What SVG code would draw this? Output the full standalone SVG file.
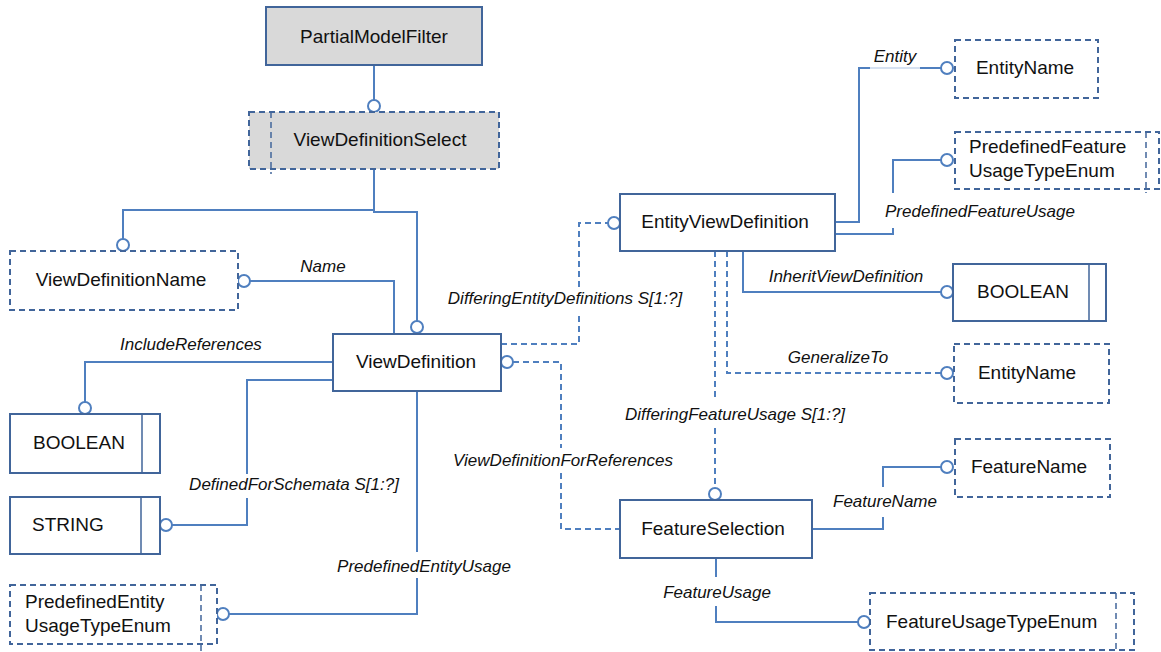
<svg xmlns="http://www.w3.org/2000/svg" width="1161" height="652" viewBox="0 0 1161 652">
<style>
.box{fill:#fff;stroke:#41659a;stroke-width:2}
.gray{fill:#d9d9d9}
.dash{stroke-dasharray:6 4}
.inner{fill:none;stroke:#41659a;stroke-width:1.5}
.t{font-family:"Liberation Sans",Arial,sans-serif;font-size:19px;fill:#111}
.l{font-family:"Liberation Sans",Arial,sans-serif;font-size:17px;font-style:italic;fill:#111}
.m{text-anchor:middle}
.c{fill:none;stroke:#4f7fbf;stroke-width:2}
.cd{stroke-dasharray:6 4}
.faint{fill:none;stroke:#c9d7ec;stroke-width:1.5}
.end{fill:#fff;stroke:#4f7fbf;stroke-width:2}
</style>
<rect width="1161" height="652" fill="#fff"/>

<g id="connectors">
  <path class="c" d="M374 65 V100"/>
  <circle class="end" cx="374" cy="106" r="6"/>
  <path class="c" d="M374 169 V210 H123 V239"/>
  <circle class="end" cx="123" cy="245" r="6"/>
  <path class="c" d="M374 210 V212 H417 V321"/>
  <circle class="end" cx="417" cy="327" r="6"/>
  <path class="c" d="M250 281 H394 V334"/>
  <circle class="end" cx="244" cy="281" r="6"/>
  <path class="c" d="M333 362 H85 V402"/>
  <circle class="end" cx="85" cy="408" r="6"/>
  <path class="c" d="M333 380 H247 V474 M247 498 V525 H172"/>
  <circle class="end" cx="166" cy="525" r="6"/>
  <path class="c" d="M417 391 V552 M417 578 V614 H229"/>
  <circle class="end" cx="223" cy="614" r="6"/>
  <path class="c cd" d="M501 344 H579 V316 M579 287 V223 H608"/>
  <circle class="end" cx="614" cy="223" r="6"/>
  <path class="c cd" d="M513 362 H561 V448 M561 473 V529 H620"/>
  <circle class="end" cx="507" cy="362" r="6"/>
  <path class="c" d="M835 222 H859 V68 H870 M920 68 H941"/>
  <path class="faint" d="M870 68 H920"/>
  <circle class="end" cx="947" cy="68" r="6"/>
  <path class="c" d="M833 234 H893 V228 M893 193 V160 H941"/>
  <circle class="end" cx="947" cy="160" r="6"/>
  <path class="c" d="M743 251 V292 H941"/>
  <circle class="end" cx="947" cy="292" r="6"/>
  <path class="c cd" d="M727 251 V373 H941"/>
  <circle class="end" cx="947" cy="373" r="6"/>
  <path class="c cd" d="M715 251 V400 M715 428 V488"/>
  <circle class="end" cx="715" cy="494" r="6"/>
  <path class="c" d="M812 529 H883 V517 M883 487 V467 H941"/>
  <circle class="end" cx="947" cy="467" r="6"/>
  <path class="c" d="M716 558 V577 M716 606 V622 H858"/>
  <circle class="end" cx="864" cy="622" r="6"/>

  <text class="l m" x="323" y="272">Name</text>
  <text class="l m" x="565" y="304">DifferingEntityDefinitions S[1:?]</text>
  <text class="l m" x="191" y="350">IncludeReferences</text>
  <text class="l m" x="294" y="490">DefinedForSchemata S[1:?]</text>
  <text class="l m" x="563" y="466">ViewDefinitionForReferences</text>
  <text class="l m" x="424" y="572">PredefinedEntityUsage</text>
  <text class="l m" x="895" y="62">Entity</text>
  <text class="l m" x="980" y="217">PredefinedFeatureUsage</text>
  <text class="l m" x="846" y="282">InheritViewDefinition</text>
  <text class="l m" x="838" y="363">GeneralizeTo</text>
  <text class="l m" x="735" y="420">DifferingFeatureUsage S[1:?]</text>
  <text class="l m" x="885" y="507">FeatureName</text>
  <text class="l m" x="717" y="598">FeatureUsage</text>
</g>

<g id="PartialModelFilter">
  <rect class="box gray" x="266" y="7" width="216" height="58"/>
  <text class="t m" x="374" y="43">PartialModelFilter</text>
</g>
<g id="ViewDefinitionSelect">
  <rect class="box gray dash" x="249" y="112" width="250" height="57"/>
  <line class="inner dash" x1="271" y1="112" x2="271" y2="174"/>
  <text class="t m" x="380" y="146">ViewDefinitionSelect</text>
</g>
<g id="ViewDefinitionName">
  <rect class="box dash" x="10" y="251" width="228" height="59"/>
  <text class="t m" x="121" y="286">ViewDefinitionName</text>
</g>
<g id="ViewDefinition">
  <rect class="box" x="333" y="334" width="168" height="57"/>
  <text class="t m" x="416" y="368">ViewDefinition</text>
</g>
<g id="BOOLEAN_left">
  <rect class="box" x="10" y="414" width="150" height="59"/>
  <line class="inner" x1="142" y1="414" x2="142" y2="473"/>
  <text class="t" x="33" y="449">BOOLEAN</text>
</g>
<g id="STRING">
  <rect class="box" x="10" y="497" width="150" height="57"/>
  <line class="inner" x1="141" y1="497" x2="141" y2="554"/>
  <text class="t" x="32" y="531">STRING</text>
</g>
<g id="PredefinedEntityUsageTypeEnum">
  <rect class="box dash" x="10" y="585" width="207" height="59"/>
  <line class="inner dash" x1="201" y1="585" x2="201" y2="651"/>
  <text class="t" x="25" y="608">PredefinedEntity</text>
  <text class="t" x="25" y="632">UsageTypeEnum</text>
</g>
<g id="EntityViewDefinition">
  <rect class="box" x="620" y="194" width="215" height="57"/>
  <text class="t m" x="725" y="228">EntityViewDefinition</text>
</g>
<g id="EntityName_1">
  <rect class="box dash" x="955" y="40" width="143" height="58"/>
  <text class="t m" x="1025" y="74">EntityName</text>
</g>
<g id="PredefinedFeatureUsageTypeEnum">
  <rect class="box dash" x="955" y="132" width="204" height="57"/>
  <line class="inner dash" x1="1146" y1="132" x2="1146" y2="193"/>
  <text class="t" x="969" y="153">PredefinedFeature</text>
  <text class="t" x="969" y="177">UsageTypeEnum</text>
</g>
<g id="BOOLEAN_right">
  <rect class="box" x="953" y="264" width="153" height="57"/>
  <line class="inner" x1="1089" y1="264" x2="1089" y2="321"/>
  <text class="t" x="977" y="298">BOOLEAN</text>
</g>
<g id="EntityName_2">
  <rect class="box dash" x="954" y="344" width="155" height="59"/>
  <text class="t m" x="1027" y="379">EntityName</text>
</g>
<g id="FeatureName">
  <rect class="box dash" x="955" y="439" width="155" height="58"/>
  <text class="t m" x="1029" y="473">FeatureName</text>
</g>
<g id="FeatureSelection">
  <rect class="box" x="620" y="500" width="192" height="58"/>
  <text class="t m" x="713" y="535">FeatureSelection</text>
</g>
<g id="FeatureUsageTypeEnum">
  <rect class="box dash" x="870" y="593" width="264" height="57"/>
  <line class="inner dash" x1="1116" y1="593" x2="1116" y2="650"/>
  <text class="t" x="886" y="628">FeatureUsageTypeEnum</text>
</g>
</svg>
